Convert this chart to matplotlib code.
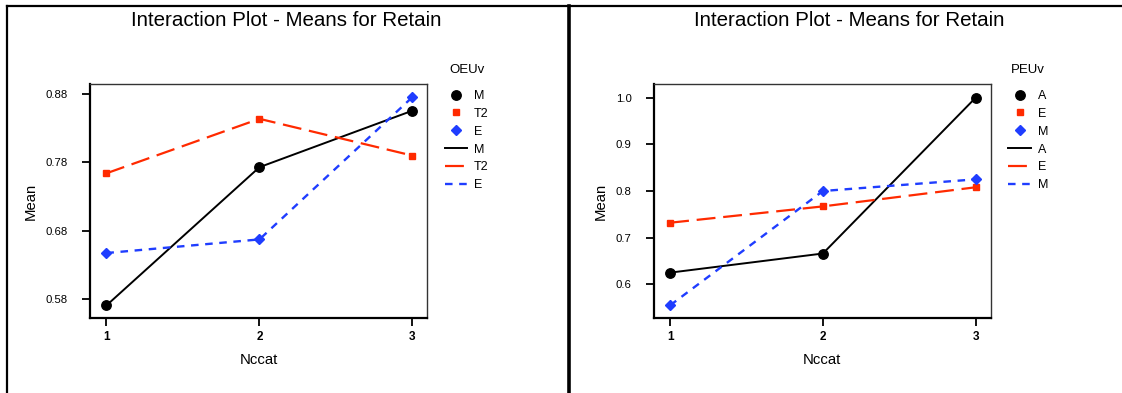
import matplotlib
matplotlib.use("Agg")
import matplotlib.pyplot as plt
from matplotlib.lines import Line2D

plt.rcParams['font.family'] = ['Liberation Sans', 'DejaVu Sans']

# ---- data ----
nccat = [1, 2, 3]
xtick_labels = ["1", "2", "3"]

left_title = "Interaction Plot - Means for Retain"
left_factor = "OEUv"
left_levels = ["M", "T2", "E"]
left_M = [0.570, 0.773, 0.856]
left_T2 = [0.764, 0.844, 0.790]
left_E = [0.647, 0.667, 0.876]
left_yticks = [0.58, 0.68, 0.78, 0.88]
left_yticklabels = ["0.58", "0.68", "0.78", "0.88"]

right_title = "Interaction Plot - Means for Retain"
right_factor = "PEUv"
right_levels = ["A", "E", "M"]
right_A = [0.625, 0.666, 1.000]
right_E = [0.732, 0.767, 0.808]
right_M = [0.555, 0.800, 0.825]
right_yticks = [0.6, 0.7, 0.8, 0.9, 1.0]
right_yticklabels = ["0.6", "0.7", "0.8", "0.9", "1.0"]

xlabel = "Nccat"
ylabel = "Mean"

# ---- styles ----
W, H = 1122, 393
RED = "#ff2a00"
BLUE = "#1f3dff"
styles = [
    dict(color="black", marker="o", ms=6.8, lw=1.4, ls="-", dashes=None),
    dict(color=RED, marker="s", ms=3.8, lw=1.6, ls="--", dashes=(8.5, 3.5)),
    dict(color=BLUE, marker="D", ms=4.8, lw=1.7, ls="--", dashes=(3.2, 2.8)),
]

fig = plt.figure(figsize=(W / 100, H / 100), dpi=100)


def px_rect(x0, x1, ytop, ybot):
    return [x0 / W, 1 - ybot / H, (x1 - x0) / W, (ybot - ytop) / H]


def panel(rect, series, levels, factor, yticks, yticklabels, ylim, title,
          title_x, ylab_x, leg_x):
    ax = fig.add_axes(rect)
    for vals, st in zip(series, styles):
        kw = dict(color=st["color"], lw=st["lw"], marker=st["marker"],
                  ms=st["ms"], clip_on=False, solid_capstyle="butt")
        line, = ax.plot(nccat, vals, ls=st["ls"], **kw)
        if st["dashes"]:
            line.set_dashes(st["dashes"])
    ax.set_xlim(0.893, 3.098)
    ax.set_ylim(*ylim)
    ax.set_xticks(nccat)
    ax.set_xticklabels(xtick_labels, fontweight="bold", fontsize=8.5)
    ax.set_yticks(yticks)
    ax.set_yticklabels(yticklabels, fontsize=8.2)
    ax.tick_params(axis="y", direction="out", length=6, width=1.3, pad=10)
    ax.tick_params(axis="x", direction="out", length=5.5, width=1.3, pad=4)
    for s in ("left", "bottom"):
        ax.spines[s].set_linewidth(1.6)
        ax.spines[s].set_color("black")
    for s in ("top", "right"):
        ax.spines[s].set_linewidth(1.0)
        ax.spines[s].set_color("#333333")
    ax.text(0.5, -0.1765, xlabel, transform=ax.transAxes, ha="center",
            va="center", fontsize=10.7)
    ax.text(ylab_x, 0.5, ylabel, transform=ax.transAxes, ha="center",
            va="center", rotation=90, fontsize=10.7)
    fig.text(title_x / W, 1 - 20 / H, title, ha="center", va="center",
             fontsize=14.8)
    # legend: markers then lines
    handles = []
    for lev, st in zip(levels, styles):
        handles.append(Line2D([], [], ls="none", marker=st["marker"],
                              ms=st["ms"], color=st["color"], label=lev))
    for lev, st in zip(levels, styles):
        h = Line2D([], [], ls=st["ls"], lw=st["lw"], color=st["color"],
                   label=lev)
        if st["dashes"]:
            h.set_dashes(st["dashes"])
        handles.append(h)
    leg = ax.legend(handles=handles, title=factor, loc="upper left",
                    bbox_to_anchor=(leg_x, 1.085), borderaxespad=0,
                    borderpad=0, frameon=False, fontsize=9,
                    title_fontsize=9.5, handlelength=1.8,
                    handletextpad=0.55, labelspacing=0.47)
    leg._legend_box.sep = 10.0
    return ax


panel(px_rect(90, 427.5, 84, 318.3), [left_M, left_T2, left_E], left_levels,
      left_factor, left_yticks, left_yticklabels, (0.5512, 0.8951),
      left_title, 286.6, (30.4 - 90) / 337.5, (444.6 - 90) / 337.5)
panel(px_rect(653.8, 990.6, 84, 318.3), [right_A, right_E, right_M],
      right_levels, right_factor, right_yticks, right_yticklabels,
      (0.5271, 1.0294), right_title, 849.5, (600.6 - 653.8) / 336.8,
      (1008.4 - 653.8) / 336.8)

# outer frame lines (pixel coordinates)
def pline(xs, ys, lw, color="black"):
    fig.add_artist(Line2D([x / W for x in xs], [1 - y / H for y in ys],
                          lw=lw, color=color, transform=fig.transFigure))

pline([6.5, W], [5.5, 5.5], 1.6)
pline([6.5, 6.5], [5.5, H], 1.6)
pline([568.5, 568.5], [5.5, H], 2.6)

fig.savefig("out.png", dpi=100)
